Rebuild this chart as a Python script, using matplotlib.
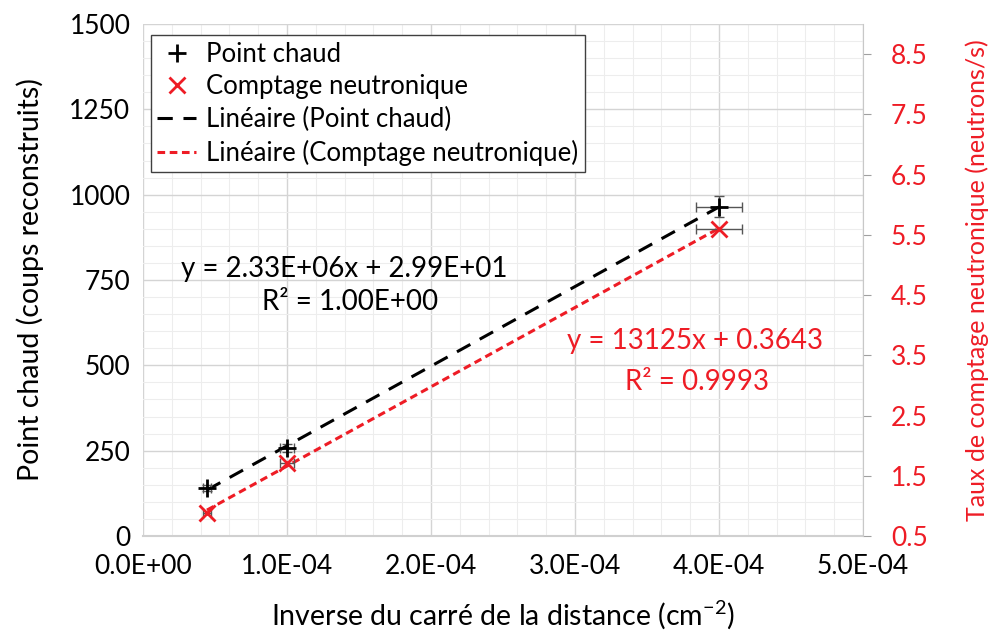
import numpy as np
import matplotlib.pyplot as plt
from matplotlib.ticker import MultipleLocator

plt.rcParams['font.family'] = ['Lato', 'DejaVu Sans']

# data
x = [4.44e-5, 1.0e-4, 4.0e-4]
point_chaud = [140, 258, 965]
pc_yerr = [8, 12, 30]
pc_xerr = [0.3e-5, 0.5e-5, 1.6e-5]
neutron = [0.88, 1.72, 5.60]
n_xerr = [0.3e-5, 0.5e-5, 1.6e-5]

xticks = [0, 1e-4, 2e-4, 3e-4, 4e-4, 5e-4]
xticklabels = ['0.0E+00', '1.0E-04', '2.0E-04', '3.0E-04', '4.0E-04', '5.0E-04']
yticks = [0, 250, 500, 750, 1000, 1250, 1500]
y2ticks = [0.5, 1.5, 2.5, 3.5, 4.5, 5.5, 6.5, 7.5, 8.5]

red = '#ee1c25'

fig = plt.figure(figsize=(9.92, 6.41), dpi=100)
ax = fig.add_axes([143/992, 1 - 536/641, 720/992, 512/641])
ax2 = ax.twinx()

ax.set_xlim(0, 5e-4)
ax.set_ylim(0, 1500)
ax2.set_ylim(0.5, 9.0)

# grid
ax.xaxis.set_minor_locator(MultipleLocator(2e-5))
ax.yaxis.set_minor_locator(MultipleLocator(50))
ax.grid(which='major', color='#d4d4d4', lw=1.0)
ax.grid(which='minor', color='#ededed', lw=0.8)
ax.set_axisbelow(True)
ax.tick_params(which='both', length=0)

# linear fits
xs = np.array(x)
p1 = np.polyfit(xs, point_chaud, 1)
p2 = np.polyfit(xs, neutron, 1)
xf = np.array([xs.min(), xs.max()])

l1, = ax.plot(xf, np.polyval(p1, xf), ls=(0, (5, 3.5)), color='black', lw=2.2)
ax.errorbar(x, point_chaud, yerr=pc_yerr, xerr=pc_xerr, fmt='none',
            ecolor='#555555', elinewidth=1, capsize=3.5)
m1, = ax.plot(x, point_chaud, ls='none', marker='+', color='black',
              markersize=13, mew=2)

l2, = ax2.plot(xf, np.polyval(p2, xf), ls=(0, (2.5, 1.5)), color=red, lw=2.2)
ax2.errorbar(x, neutron, xerr=n_xerr, fmt='none',
             ecolor='#555555', elinewidth=1, capsize=3.5)
m2, = ax2.plot(x, neutron, ls='none', marker='x', color=red,
               markersize=11, mew=2)

ax.set_xticks(xticks)
ax.set_xticklabels(xticklabels)
ax.set_yticks(yticks)
ax.tick_params(axis='y', labelsize=19, pad=9)
ax.tick_params(axis='x', labelsize=19, pad=13)
ax2.set_yticks(y2ticks)
ax2.tick_params(axis='y', labelsize=19, labelcolor=red, color='#a0a0a0',
                length=6, pad=14)

for s in ['top', 'left', 'bottom']:
    ax.spines[s].set_visible(False)
    ax2.spines[s].set_visible(False)
ax.spines['right'].set_visible(False)
ax2.spines['right'].set_color('#c8c8c8')
ax2.axhline(0.5, color='#d0d0d0', lw=1.5, clip_on=False)

ax.set_ylabel('Point chaud (coups reconstruits)', fontsize=20.5, labelpad=18)
ax.set_xlabel('Inverse du carré de la distance (cm$^{\\mathregular{-2}}$)',
              fontsize=20.5, labelpad=14)
ax2.set_ylabel('Taux de comptage neutronique (neutrons/s)', fontsize=18,
               color=red, labelpad=27)

ax.text(1.40e-4, 782, 'y = 2.33E+06x + 2.99E+01', fontsize=20, ha='center', va='center')
ax.text(1.44e-4, 686, 'R² = 1.00E+00', fontsize=20, ha='center', va='center')
ax2.text(3.83e-4, 3.73, 'y = 13125x + 0.3643', fontsize=20, ha='center', va='center', color=red)
ax2.text(3.85e-4, 3.05, 'R² = 0.9993', fontsize=20, ha='center', va='center', color=red)

leg = ax2.legend([m1, m2, l1, l2],
                 ['Point chaud', 'Comptage neutronique', 'Linéaire (Point chaud)',
                  'Linéaire (Comptage neutronique)'],
                 loc='upper left', bbox_to_anchor=(0.011, 0.978), borderaxespad=0,
                 fontsize=18.5, frameon=True, fancybox=False, edgecolor='#404040',
                 handlelength=1.5, handletextpad=0.4, borderpad=0.25,
                 labelspacing=0.3, framealpha=1)
leg.get_frame().set_linewidth(1.0)

fig.savefig('out.png', dpi=100)
